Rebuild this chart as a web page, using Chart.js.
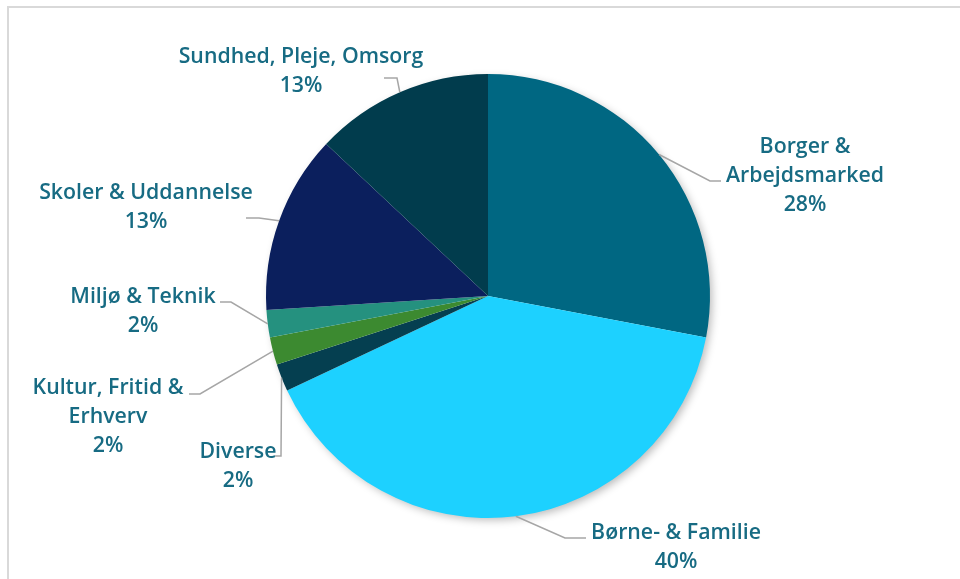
<!DOCTYPE html>
<html>

<head>
    <meta charset="UTF-8">
    <title>Fordeling pr. område</title>
    <script src="https://cdn.jsdelivr.net/npm/chart.js"></script>
    <style>
        html,
        body {
            margin: 0;
            padding: 0;
            background: #fff;
        }
    </style>
</head>

<body>
    <canvas id="myChart" width="960" height="579"></canvas>

    <script>
        const categories = ['Borger & Arbejdsmarked', 'Børne- & Familie', 'Diverse', 'Kultur, Fritid & Erhverv', 'Miljø & Teknik', 'Skoler & Uddannelse', 'Sundhed, Pleje, Omsorg'];
        const shares = [28, 40, 2, 2, 2, 13, 13];
        const sliceColors = ['#006782', '#1dd1ff', '#053f50', '#3c8a30', '#25917f', '#0b1f5d', '#013c4d'];

        // how each label is wrapped
        const labelLines = [
            ['Borger &', 'Arbejdsmarked'],
            ['Børne- & Familie'],
            ['Diverse'],
            ['Kultur, Fritid &', 'Erhverv'],
            ['Miljø & Teknik'],
            ['Skoler & Uddannelse'],
            ['Sundhed, Pleje, Omsorg']
        ];

        // centre of the first text line, and the bends of the leader line
        const labelSpots = [
            { x: 805, y: 145, bends: [[710, 181], [721, 181]] },
            { x: 676, y: 531, bends: [[565, 538], [586, 538]] },
            { x: 238, y: 450, bends: [[281, 456], [275, 456]] },
            { x: 108, y: 386, bends: [[200, 394], [189, 394]] },
            { x: 143, y: 295, bends: [[231, 302], [220, 302]] },
            { x: 146, y: 191, bends: [[259, 218], [246, 218]] },
            { x: 301, y: 55, bends: [[397, 78], [384, 78]] }
        ];

        const FONT_SIZE = 21.3;
        const LINE_GAP = 29;
        const TEXT_COLOR = '#176b83';

        // light frame around the plot
        const frame = {
            id: 'frame',
            beforeDraw(chart) {
                const ctx = chart.ctx;
                ctx.save();
                ctx.strokeStyle = '#d9d9d9';
                ctx.lineWidth = 2;
                ctx.strokeRect(8, 7, 1000, 1000);
                ctx.restore();
            }
        };

        // soft drop shadow behind the whole pie
        const pieShadow = {
            id: 'pieShadow',
            beforeDatasetsDraw(chart) {
                const arc = chart.getDatasetMeta(0).data[0];
                if (!arc) return;
                const { x, y, outerRadius } = arc.getProps(['x', 'y', 'outerRadius'], true);
                const ctx = chart.ctx;
                ctx.save();
                ctx.shadowColor = 'rgba(0,0,0,0.28)';
                ctx.shadowBlur = 8;
                ctx.shadowOffsetX = 3;
                ctx.shadowOffsetY = 3;
                ctx.fillStyle = '#ffffff';
                ctx.beginPath();
                ctx.arc(x, y, outerRadius - 1, 0, Math.PI * 2);
                ctx.fill();
                ctx.restore();
            }
        };

        // category names, percentages and leader lines
        const sliceLabels = {
            id: 'sliceLabels',
            afterDatasetsDraw(chart) {
                const ctx = chart.ctx;
                const total = shares.reduce((a, b) => a + b, 0);
                ctx.save();
                chart.getDatasetMeta(0).data.forEach((arc, i) => {
                    const p = arc.getProps(['x', 'y', 'startAngle', 'endAngle', 'outerRadius'], true);
                    const mid = (p.startAngle + p.endAngle) / 2;
                    const sx = p.x + Math.cos(mid) * p.outerRadius;
                    const sy = p.y + Math.sin(mid) * p.outerRadius;
                    const spot = labelSpots[i];

                    ctx.strokeStyle = '#a6a6a6';
                    ctx.lineWidth = 1.5;
                    ctx.beginPath();
                    ctx.moveTo(sx, sy);
                    spot.bends.forEach(b => ctx.lineTo(b[0], b[1]));
                    ctx.stroke();

                    const lines = labelLines[i].concat([Math.round(shares[i] / total * 100) + '%']);
                    ctx.fillStyle = TEXT_COLOR;
                    ctx.font = '600 ' + FONT_SIZE + 'px "Open Sans"';
                    ctx.textAlign = 'center';
                    ctx.textBaseline = 'alphabetic';
                    lines.forEach((t, k) => {
                        ctx.fillText(t, spot.x, spot.y + k * LINE_GAP + FONT_SIZE * 0.357);
                    });
                });
                ctx.restore();
            }
        };

        const ctx = document.getElementById('myChart').getContext('2d');
        const chart = new Chart(ctx, {
            type: 'pie',
            data: {
                labels: categories,
                datasets: [{
                    data: shares,
                    backgroundColor: sliceColors,
                    borderWidth: 0,
                    hoverOffset: 0
                }]
            },
            options: {
                responsive: false,
                animation: false,
                layout: {
                    padding: { left: 266, right: 250, top: 74, bottom: 61 }
                },
                plugins: {
                    legend: { display: false },
                    tooltip: { enabled: false }
                }
            },
            plugins: [frame, pieShadow, sliceLabels]
        });
    </script>
</body>

</html>
